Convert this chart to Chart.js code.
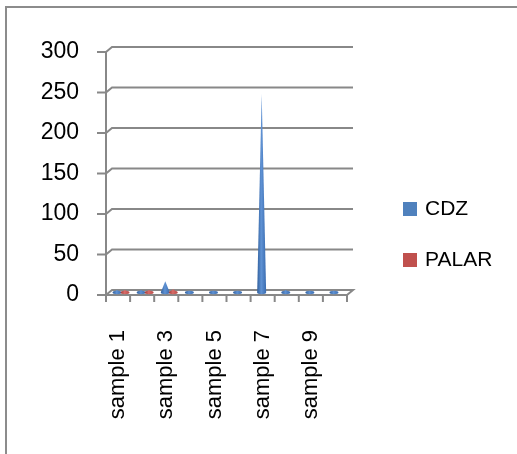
<!DOCTYPE html>
<html>
<head>
<meta charset="utf-8">
<script src="https://cdn.jsdelivr.net/npm/chart.js@4/dist/chart.umd.min.js"></script>
<style>
  html, body { margin: 0; padding: 0; background: #ffffff; }
  #wrap { width: 517px; height: 454px; position: relative; }
</style>
</head>
<body>
<div id="wrap"><canvas id="c" width="517" height="454"></canvas></div>
<script>
// Sample categories and the two measured series
const categories = ['sample 1', 'sample 2', 'sample 3', 'sample 4', 'sample 5',
                    'sample 6', 'sample 7', 'sample 8', 'sample 9', 'sample 10'];
const cdz   = [3, 3, 14, 2, 2, 2, 245, 3, 2, 2];
const palar = [3, 3, 4, 0, 0, 0, 0, 0, 0, 0];
const seriesNames = ['CDZ', 'PALAR'];
const yTicks = [0, 50, 100, 150, 200, 250, 300];

// Palette for the cones: [left edge, highlight, right edge]
const SHADES = [
  ['#2f5e9c', '#5f92d4', '#3a6cb0'],
  ['#9c3a37', '#d86c69', '#b84a47']
];
const LEGEND_COLORS = ['#4f81bd', '#c0504d'];
const GRID = '#888888';
const DX = 6, DY = -5;   // depth offset of the back wall

const FONT = "'Liberation Sans', Arial, sans-serif";

const wallPlugin = {
  id: 'wall',
  beforeDraw(chart) {
    const ctx = chart.ctx;
    ctx.save();
    ctx.fillStyle = '#ffffff';
    ctx.fillRect(0, 0, chart.width, chart.height);
    // outer frame
    ctx.strokeStyle = '#8c8c8c';
    ctx.lineWidth = 2;
    ctx.beginPath();
    ctx.moveTo(6, chart.height);
    ctx.lineTo(6, 7);
    ctx.lineTo(chart.width, 7);
    ctx.stroke();
    ctx.restore();
  },
  beforeDatasetsDraw(chart) {
    const ctx = chart.ctx;
    const { left, right, top, bottom } = chart.chartArea;
    const y = chart.scales.y;
    ctx.save();
    ctx.strokeStyle = GRID;
    ctx.lineWidth = 2;
    ctx.lineCap = 'butt';
    // back wall gridlines with the short perspective connector
    yTicks.forEach(v => {
      const py = y.getPixelForValue(v);
      ctx.beginPath();
      ctx.moveTo(left - 9, py);
      ctx.lineTo(left, py);
      ctx.lineTo(left + DX, py + DY);
      ctx.lineTo(right + DX, py + DY);
      if (v === 0) {
        ctx.lineTo(right, py);
        ctx.lineTo(left, py);
      }
      ctx.stroke();
    });
    // front vertical axis
    ctx.beginPath();
    ctx.moveTo(left, top);
    ctx.lineTo(left, bottom + 7);
    ctx.stroke();
    // category tick marks under the floor
    const n = categories.length;
    const step = (right - left) / n;
    for (let i = 0; i <= n; i++) {
      const px = left + i * step;
      ctx.beginPath();
      ctx.moveTo(px, bottom);
      ctx.lineTo(px, bottom + 7);
      ctx.stroke();
    }
    ctx.restore();
  },
  afterDatasetsDraw(chart) {
    const ctx = chart.ctx;
    ctx.save();
    chart.data.datasets.forEach((ds, di) => {
      const meta = chart.getDatasetMeta(di);
      const sh = SHADES[di];
      meta.data.forEach((el, i) => {
        if (ds.data[i] <= 0) return;
        const p = el.getProps(['x', 'y', 'base', 'width'], true);
        const cx = p.x + DX / 2;
        const by = p.base + DY / 2;
        const ty = p.y + DY / 2;
        const hw = p.width / 2 + 0.5;
        const g = ctx.createLinearGradient(cx - hw, 0, cx + hw, 0);
        g.addColorStop(0, sh[0]);
        g.addColorStop(0.45, sh[1]);
        g.addColorStop(1, sh[2]);
        ctx.fillStyle = g;
        // elliptic base of the cone
        ctx.beginPath();
        ctx.ellipse(cx, by, hw, 1.7, 0, 0, Math.PI * 2);
        ctx.fill();
        // cone body
        ctx.beginPath();
        ctx.moveTo(cx - hw, by);
        ctx.lineTo(cx, ty);
        ctx.lineTo(cx + hw, by);
        ctx.closePath();
        ctx.fill();
      });
    });
    ctx.restore();
  },
  afterDraw(chart) {
    const ctx = chart.ctx;
    ctx.save();
    ctx.font = '21px ' + FONT;
    ctx.textBaseline = 'middle';
    ctx.textAlign = 'left';
    seriesNames.forEach((name, i) => {
      const yy = 209 + i * 51;
      ctx.fillStyle = LEGEND_COLORS[i];
      ctx.fillRect(403, yy - 7, 14, 14);
      ctx.fillStyle = '#000000';
      ctx.fillText(name, 425, yy);
    });
    ctx.restore();
  }
};

new Chart(document.getElementById('c'), {
  type: 'bar',
  data: {
    labels: categories,
    datasets: [
      { label: seriesNames[0], data: cdz, backgroundColor: 'rgba(0,0,0,0)', borderWidth: 0 },
      { label: seriesNames[1], data: palar, backgroundColor: 'rgba(0,0,0,0)', borderWidth: 0 }
    ]
  },
  options: {
    responsive: false,
    animation: false,
    events: [],
    layout: { padding: { left: 0, right: 170, top: 52, bottom: 0 } },
    datasets: { bar: { categoryPercentage: 0.66, barPercentage: 1.0 } },
    plugins: { legend: { display: false }, tooltip: { enabled: false } },
    scales: {
      x: {
        grid: { display: false },
        border: { display: false },
        ticks: {
          autoSkip: false,
          minRotation: 90,
          maxRotation: 90,
          padding: 27,
          color: '#000000',
          font: { family: FONT, size: 22 },
          callback: function (v, i) { return i % 2 === 0 ? categories[i] : ''; }
        },
        afterFit(s) { s.height = 159; s.paddingLeft = 0; s.paddingRight = 0; }
      },
      y: {
        min: 0,
        max: 300,
        grid: { display: false },
        border: { display: false },
        ticks: {
          stepSize: 50,
          padding: 19,
          color: '#000000',
          font: { family: FONT, size: 23 }
        },
        afterFit(s) { s.width = 106; s.paddingTop = 0; s.paddingBottom = 0; }
      }
    }
  },
  plugins: [wallPlugin]
});
</script>
</body>
</html>
